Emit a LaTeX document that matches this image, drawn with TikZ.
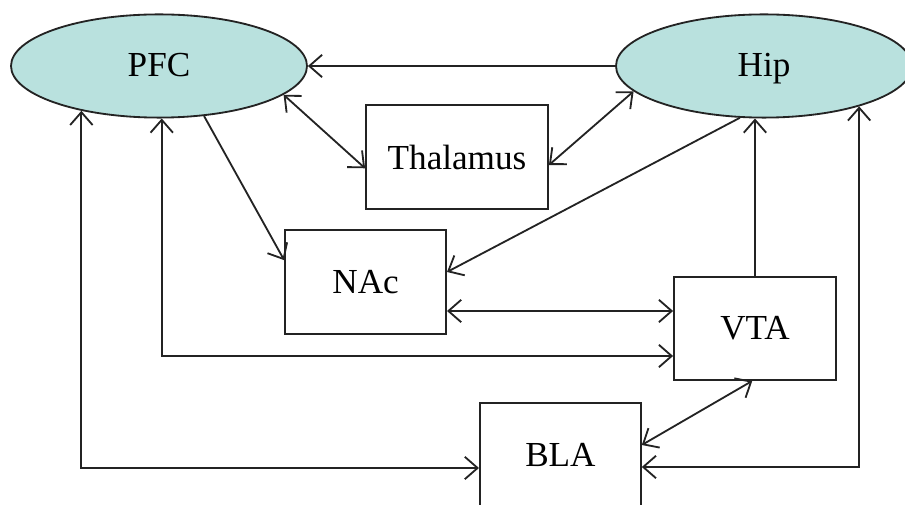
\documentclass[tikz,border=0pt]{standalone}
\usepackage{fontspec}
\setmainfont{Liberation Serif}
\usepackage{xcolor}
\definecolor{regionteal}{RGB}{185,225,222}
\definecolor{linegray}{RGB}{35,35,35}
\usepackage{tikz}
\usetikzlibrary{shapes.geometric,arrows.meta,positioning,calc}

\begin{document}
\begin{tikzpicture}[
    region/.style={ellipse, draw=linegray, fill=regionteal, line width=1.3pt,
                 minimum width=7.4cm, minimum height=2.58cm, inner sep=0pt,
                 text depth=0.22em, font=\fontsize{25}{30}\selectfont},
    area/.style={rectangle, draw=linegray, line width=1.3pt,
                 minimum height=2.58cm, inner sep=0pt,
                 font=\fontsize{25}{30}\selectfont},
    arr/.style={-{Straight Barb[length=0.32cm,width=0.56cm]}, line width=1.3pt, linegray},
    dbl/.style={{Straight Barb[length=0.32cm,width=0.56cm]}-{Straight Barb[length=0.32cm,width=0.56cm]},
                 line width=1.3pt, linegray},
  ]
    \useasboundingbox (0,0) rectangle (22.625,-12.625);

    \node[region] (pfc) at (3.975,-1.65) {PFC};
    \node[region] (hip) at (19.1,-1.65)  {Hip};

    \node[area, minimum width=4.55cm]  (thal) at (11.425,-3.925) {Thalamus};
    \node[area, minimum width=4.025cm] (nac)  at (9.14,-7.05)    {NAc};
    \node[area, minimum width=4.05cm]  (vta)  at (18.875,-8.21)  {VTA};
    \node[area, minimum width=4.025cm] (bla)  at (14.01,-11.375) {BLA};

    \coordinate (nv) at ([yshift=-0.725cm]nac.east);
    \coordinate (pv) at ([yshift=-0.69cm]vta.west);
    \coordinate (hb) at ([yshift=-0.3cm]bla.east);
    \coordinate (pb) at ([yshift=-0.325cm]bla.west);

    \draw[arr] (hip.west) -- (pfc.east);
    \draw[dbl] (pfc.-13) -- (thal.187);
    \draw[dbl] (thal.-5) -- (hip.191);
    \draw[arr] (pfc.-48) -- (nac.165);
    \draw[arr] (hip.245) -- (nac.7);
    \draw[dbl] (nv) -- (nv -| vta.west);
    \draw[dbl] (pfc.273) |- (pv);
    \draw[arr] (vta.north) -- (vta.north |- hip.south);
    \draw[dbl] (vta.267) -- (bla.7);
    \draw[dbl] (hb) -| (hip.-23);
    \draw[dbl] (pfc.210) |- (pb);
  \end{tikzpicture}
\end{document}
